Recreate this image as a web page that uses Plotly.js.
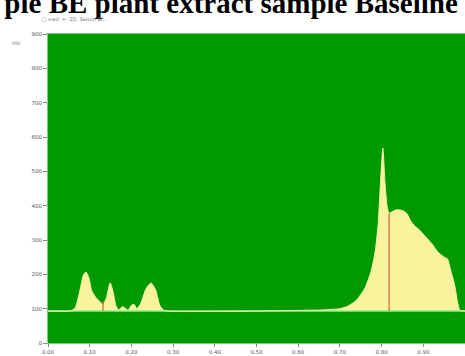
<!DOCTYPE html>
<html>
<head>
<meta charset="utf-8">
<script src="https://cdn.plot.ly/plotly-3.0.1.min.js"></script>
<style>html,body{margin:0;padding:0;background:#fff;}#chart{width:465px;height:356px;}</style>
</head>
<body>
<div id="chart"></div>
<script>
// Retention time (x) and detector signal (mV)
const signalX = [0.000, 0.050, 0.055, 0.065, 0.075, 0.085, 0.091, 0.098, 0.105, 0.115, 0.125, 0.132, 0.140, 0.149, 0.156, 0.163, 0.170, 0.178, 0.185, 0.192, 0.200, 0.207, 0.213, 0.222, 0.235, 0.247, 0.258, 0.268, 0.278, 0.300, 0.400, 0.500, 0.600, 0.650, 0.700, 0.720, 0.740, 0.760, 0.775, 0.785, 0.792, 0.797, 0.803, 0.808, 0.813, 0.818, 0.826, 0.835, 0.850, 0.860, 0.870, 0.880, 0.890, 0.905, 0.920, 0.935, 0.950, 0.958, 0.965, 0.975, 0.982, 0.988, 1.000];
const signalY = [93, 93, 94, 102, 145, 198, 207, 190, 152, 132, 120, 112, 132, 175, 150, 108, 96, 106, 102, 95, 110, 112, 100, 114, 158, 175, 155, 110, 95, 92, 92, 93, 95, 96, 100, 108, 125, 160, 210, 270, 350, 460, 568, 470, 400, 378, 383, 388, 386, 378, 355, 340, 330, 310, 290, 265, 250, 245, 215, 170, 120, 95, 93];
const baselineValue = 93;
const peakMarkX = [0.132, 0.818];
const peakMarkTop = [122, 378];
const xTicks = [0.0, 0.1, 0.2, 0.3, 0.4, 0.5, 0.6, 0.7, 0.8, 0.9];
const yTicks = [0, 100, 200, 300, 400, 500, 600, 700, 800, 900];

const baseX = [signalX[0], signalX[signalX.length - 1]];
const baseY = [baselineValue, baselineValue];

const markX = [], markY = [];
peakMarkX.forEach((x, i) => { markX.push(x, x, null); markY.push(baselineValue, peakMarkTop[i], null); });

const traces = [
  {x: baseX, y: baseY, mode: 'lines', line: {color: '#8cf08c', width: 1.5}, hoverinfo: 'skip', showlegend: false},
  {x: signalX, y: signalY, mode: 'lines', line: {color: '#f4f0a8', width: 1, shape: 'spline', smoothing: 0.6}, fill: 'tonexty', fillcolor: '#f8f39c', showlegend: false},
  {x: markX, y: markY, mode: 'lines', line: {color: '#e0603a', width: 1.2}, showlegend: false}
];

const layout = {
  width: 465, height: 356,
  margin: {l: 48, r: 0, t: 34, b: 13},
  paper_bgcolor: '#ffffff',
  plot_bgcolor: '#009900',
  showlegend: false,
  title: {text: '<b>ple BE plant extract sample Baseline</b>', font: {family: 'Liberation Serif, Times New Roman, serif', size: 29, color: '#000'}, x: 0.497, xanchor: 'center', xref: 'container', y: 0.993, yanchor: 'middle'},
  xaxis: {range: [0, 1], tickvals: xTicks, tickformat: '.2f', showgrid: false, zeroline: false, ticks: 'outside', ticklen: 3, tickcolor: '#888', showline: true, mirror: true, linecolor: '#7ad07a', tickfont: {family: 'DejaVu Sans', size: 5.5, color: '#555'}},
  yaxis: {range: [0, 900], tickvals: yTicks, showgrid: false, zeroline: false, ticks: 'outside', ticklen: 4, tickcolor: '#888', showline: true, mirror: true, linecolor: '#7ad07a', tickfont: {family: 'DejaVu Sans', size: 5.5, color: '#555'}},
  annotations: [
    {text: 'mV', xref: 'paper', yref: 'paper', x: -0.075, y: 0.97, xanchor: 'center', yanchor: 'middle', showarrow: false, font: {family: 'DejaVu Sans', size: 5, color: '#666'}},
    {text: '\u25A1 ewd  +  2D, Saison Bl...', xref: 'paper', yref: 'paper', x: -0.02, y: 1.05, xanchor: 'left', yanchor: 'middle', showarrow: false, font: {family: 'DejaVu Sans', size: 5, color: '#777'}}
  ]
};

Plotly.newPlot('chart', traces, layout, {displayModeBar: false, staticPlot: true});
</script>
</body>
</html>
